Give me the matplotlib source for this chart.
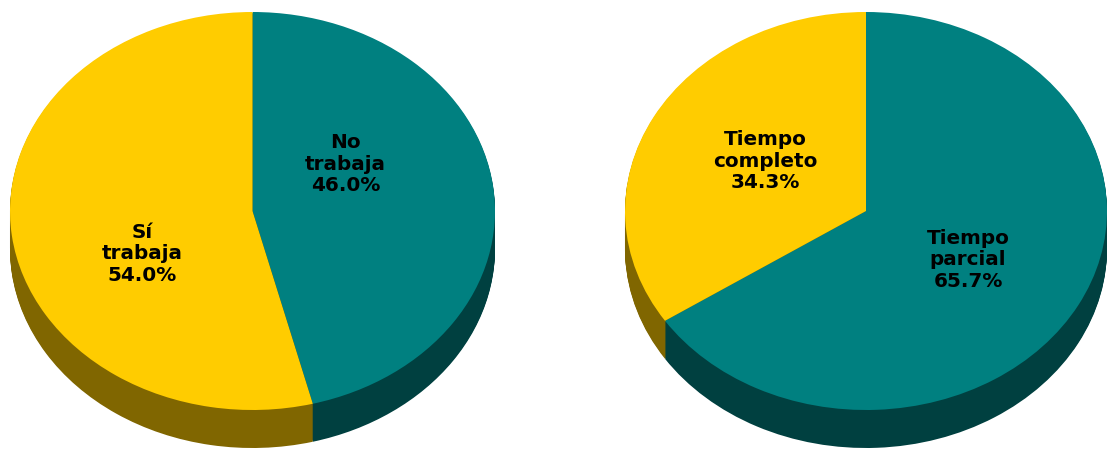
import matplotlib
matplotlib.use('Agg')
import matplotlib.pyplot as plt

W, H = 1107, 449
DEPTH = 38  # height of the pie wall in pixels

trabaja_labels = ['No\ntrabaja', 'Sí\ntrabaja']
trabaja_values = [46.0, 54.0]
trabaja_pos = [(0.384, 0.236), (-0.455, -0.216)]

tiempo_labels = ['Tiempo\nparcial', 'Tiempo\ncompleto']
tiempo_values = [65.7, 34.3]
tiempo_pos = [(0.423, -0.246), (-0.419, 0.251)]

top_colors = ['#008080', '#FFCC00']
wall_colors = ['#004040', '#806600']


def draw_pie(fig, cx, cy, rx, ry, values, labels, label_pos):
    # axes sized so that a unit pie comes out as an ellipse
    xpad, ytop, ybot = 1.05, 1.03, 1.25
    left = cx - xpad * rx
    bottom = H - (cy + ybot * ry)
    ax = fig.add_axes([left / W, bottom / H, 2 * xpad * rx / W, (ytop + ybot) * ry / H])

    # stack dark copies downwards to build up the wall
    for d in range(DEPTH, 0, -1):
        ax.pie(values, colors=wall_colors, startangle=90, counterclock=False,
               center=(0, -d / ry), wedgeprops={'linewidth': 0})
    ax.pie(values, colors=top_colors, startangle=90, counterclock=False,
           wedgeprops={'linewidth': 0})

    ax.set_aspect('auto')
    ax.set_xlim(-xpad, xpad)
    ax.set_ylim(-ybot, ytop)

    for val, lab, (x, y) in zip(values, labels, label_pos):
        ax.text(x, y, f'{lab}\n{val:.1f}%', ha='center', va='center', color='black',
                fontsize=14.4, fontweight='bold', family='DejaVu Sans', linespacing=1.19)


fig = plt.figure(figsize=(W / 100, H / 100), dpi=100, facecolor='white')
draw_pie(fig, 252.5, 211, 242.5, 199, trabaja_values, trabaja_labels, trabaja_pos)
draw_pie(fig, 866, 211, 241, 199, tiempo_values, tiempo_labels, tiempo_pos)
fig.savefig('out.png', dpi=100)
